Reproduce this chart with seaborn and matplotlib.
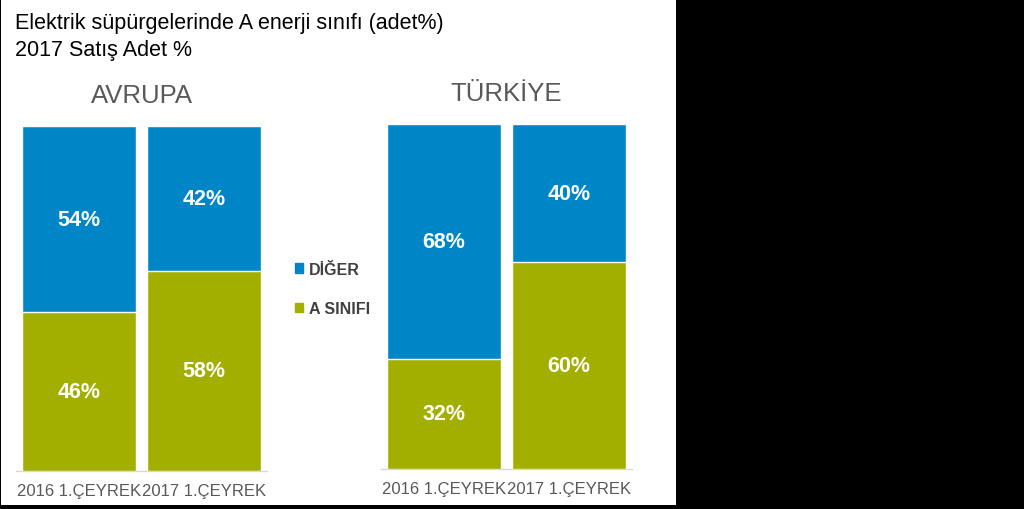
import matplotlib
matplotlib.use("Agg")
import matplotlib.pyplot as plt
import matplotlib.patches as mpatches
import seaborn as sns
import pandas as pd

# ---- data ----
periods = ["2016 1.ÇEYREK", "2017 1.ÇEYREK"]
avrupa_diger = [54, 42]
avrupa_a = [46, 58]
turkiye_diger = [68, 40]
turkiye_a = [32, 60]
series_names = ["DİĞER", "A SINIFI"]
region_titles = ["AVRUPA", "TÜRKİYE"]
title_lines = ["Elektrik süpürgelerinde A enerji sınıfı (adet%)", "2017 Satış Adet %"]

BLUE = "#0086C7"
GREEN = "#A2AF00"
GRAY = "#595959"

sns.set_theme(style="white")
plt.rcParams["font.family"] = ["Liberation Sans", "DejaVu Sans"]

W, H = 1024, 510
fig = plt.figure(figsize=(W / 100, H / 100), dpi=100, facecolor="black")

# white panel
fig.patches.append(mpatches.Rectangle((1 / W, 4 / H), 675 / W, 505 / H,
                                      transform=fig.transFigure, facecolor="white",
                                      edgecolor="none", zorder=-5))

def px_axes(x0, x1, ytop, ybot):
    return fig.add_axes([x0 / W, (H - ybot) / H, (x1 - x0) / W, (ybot - ytop) / H])

ax_l = px_axes(16, 267, 127, 472)
ax_r = px_axes(381, 632, 125, 470)

for ax, dig, a, ttl in [(ax_l, avrupa_diger, avrupa_a, region_titles[0]),
                        (ax_r, turkiye_diger, turkiye_a, region_titles[1])]:
    ax.set_facecolor("none")
    df = pd.DataFrame({"period": periods, "diger": dig, "a": a})
    df["total"] = df["diger"] + df["a"]
    sns.barplot(data=df, x="period", y="total", color=BLUE, width=0.91,
                saturation=1, ax=ax, zorder=2)
    sns.barplot(data=df, x="period", y="a", color=GREEN, width=0.91,
                saturation=1, ax=ax, zorder=3)
    ax.set_xlim(-0.5, 1.5)
    ax.set_ylim(0, 100)
    for i in range(len(periods)):
        ax.text(i, a[i] / 2, f"{a[i]}%", ha="center", va="center", color="white",
                fontsize=15.5, fontweight="bold", zorder=5)
        ax.text(i, a[i] + dig[i] / 2, f"{dig[i]}%", ha="center", va="center",
                color="white", fontsize=15.5, fontweight="bold", zorder=5)
    for s in ["top", "left", "right"]:
        ax.spines[s].set_visible(False)
    ax.spines["bottom"].set_color("#D9D9D9")
    ax.spines["bottom"].set_linewidth(1)
    ax.set_yticks([])
    ax.set_xlabel("")
    ax.set_ylabel("")
    ax.tick_params(axis="x", length=0, pad=9, labelsize=12, labelcolor=GRAY)
    ax.set_title(ttl, fontsize=18.5, color=GRAY, pad=17)

fig.text(15 / W, 1 - 29 / H, title_lines[0], fontsize=15.5, color="black",
         ha="left", va="baseline")
fig.text(15 / W, 1 - 56 / H, title_lines[1], fontsize=15.5, color="black",
         ha="left", va="baseline")

handles = [mpatches.Patch(color=BLUE, label=series_names[0]),
           mpatches.Patch(color=GREEN, label=series_names[1])]
leg = fig.legend(handles=handles, loc="center left",
                 bbox_to_anchor=(295 / W, 1 - 290 / H), frameon=False,
                 borderaxespad=0, borderpad=0,
                 handlelength=0.5, handleheight=0.5, handletextpad=0.35,
                 labelspacing=1.55, prop={"size": 11.5, "weight": "bold"})
for t in leg.get_texts():
    t.set_color("#404040")

fig.savefig("out.png", dpi=100, facecolor="black")
